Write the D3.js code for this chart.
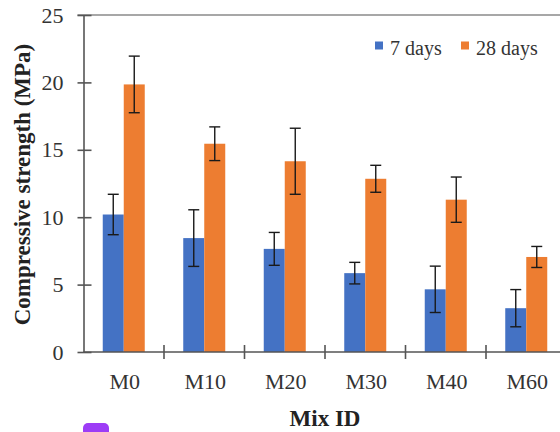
<!DOCTYPE html>
<html>
<head>
<meta charset="utf-8">
<script src="https://cdn.jsdelivr.net/npm/d3@7"></script>
<style>
html,body{margin:0;padding:0;background:#fff;}
svg{display:block;}
svg text{font-family:"Liberation Serif","Times New Roman",Times,Tinos,"DejaVu Serif",serif !important;}
</style>
</head>
<body>
<svg id="chart" width="560" height="432"></svg>
<script>
const categories = ["M0","M10","M20","M30","M40","M60"];
const seriesNames = ["7 days","28 days"];
const values7 = [10.2, 8.45, 7.65, 5.85, 4.65, 3.25];
const values28 = [19.85, 15.45, 14.15, 12.85, 11.3, 7.05];
const err7 = [1.5, 2.1, 1.22, 0.8, 1.72, 1.38];
const err28 = [2.1, 1.25, 2.45, 1.0, 1.68, 0.78];
const yTicks = [0, 5, 10, 15, 20, 25];
const colors = ["#4472C4", "#ED7D31"];

(function() {
const FONT = '"Liberation Serif","Times New Roman",Times,Tinos,"DejaVu Serif",serif';
const svg = d3.select("#chart");
const mLeft = 83.5, mRight = 566.5, mTop = 15, mBottom = 352;

const x = d3.scaleBand().domain(categories).range([mLeft, mRight]).padding(0);
const bw = x.bandwidth();
const barW = 21;
const xs = d3.scaleBand().domain(seriesNames).range([bw/2 - barW, bw/2 + barW]).padding(0);
const y = d3.scaleLinear().domain([0, 25]).range([mBottom, mTop]);

const data = categories.map((c, i) => ({
  cat: c,
  vals: [
    {s: seriesNames[0], v: values7[i], e: err7[i]},
    {s: seriesNames[1], v: values28[i], e: err28[i]}
  ]
}));

// top border
svg.append("line").attr("x1", mLeft - 6).attr("x2", 560).attr("y1", y(25)).attr("y2", y(25))
  .attr("stroke", "#8a8a8a").attr("stroke-width", 1.6);

// bars
const g = svg.append("g");
const groups = g.selectAll("g.cat").data(data).join("g")
  .attr("transform", d => `translate(${x(d.cat)},0)`);
groups.selectAll("rect").data(d => d.vals).join("rect")
  .attr("x", d => xs(d.s)).attr("width", xs.bandwidth())
  .attr("y", d => y(d.v)).attr("height", d => y(0) - y(d.v))
  .attr("fill", (d, i) => colors[i]);

// error bars
const capW = 5.5;
groups.selectAll("g.err").data(d => d.vals).join("g").attr("class", "err")
  .each(function(d) {
    const cx = xs(d.s) + xs.bandwidth()/2;
    const sel = d3.select(this);
    sel.append("line").attr("x1", cx).attr("x2", cx).attr("y1", y(d.v + d.e)).attr("y2", y(d.v - d.e))
      .attr("stroke", "#1a1a1a").attr("stroke-width", 1.4);
    [d.v + d.e, d.v - d.e].forEach(v => {
      sel.append("line").attr("x1", cx - capW).attr("x2", cx + capW).attr("y1", y(v)).attr("y2", y(v))
        .attr("stroke", "#1a1a1a").attr("stroke-width", 1.4);
    });
  });

// y axis
const yAxis = svg.append("g").attr("transform", `translate(${mLeft},0)`)
  .call(d3.axisLeft(y).tickValues(yTicks).tickSizeInner(6).tickSizeOuter(0).tickPadding(14));
yAxis.attr("font-family", FONT);
yAxis.select(".domain").attr("stroke", "#555").attr("stroke-width", 1.6);
yAxis.selectAll(".tick line").attr("x2", 8).attr("x1", -6).attr("stroke", "#555").attr("stroke-width", 1.6);
yAxis.selectAll(".tick text").attr("font-size", 22).attr("font-family", FONT).attr("fill", "#333");

// x axis
svg.append("line").attr("x1", mLeft).attr("x2", 560).attr("y1", mBottom).attr("y2", mBottom)
  .attr("stroke", "#555").attr("stroke-width", 1.6);
const bounds = categories.slice(1).map(c => x(c));
svg.append("g").selectAll("line").data(bounds).join("line")
  .attr("x1", d => d).attr("x2", d => d).attr("y1", mBottom - 7).attr("y2", mBottom + 7)
  .attr("stroke", "#555").attr("stroke-width", 1.6);
svg.append("g").selectAll("text").data(categories).join("text")
  .attr("x", d => x(d) + bw/2 + 1).attr("y", 389)
  .attr("text-anchor", "middle").attr("font-size", 22).attr("font-family", FONT).attr("fill", "#333")
  .text(d => d);

// axis titles
svg.append("text").attr("x", (mLeft + mRight)/2).attr("y", 426).attr("text-anchor", "middle")
  .attr("font-size", 23).attr("font-weight", "bold").attr("font-family", FONT).attr("fill", "#222").text("Mix ID");
svg.append("text").attr("transform", `translate(30,${(mTop + mBottom)/2 + 1}) rotate(-90)`)
  .attr("text-anchor", "middle").attr("font-size", 23).attr("font-weight", "bold").attr("font-family", FONT).attr("fill", "#222")
  .text("Compressive strength (MPa)");

// legend
const legX = [375, 461];
const leg = svg.append("g").selectAll("g").data(seriesNames).join("g")
  .attr("transform", (d, i) => `translate(${legX[i]},41.5)`);
leg.append("rect").attr("width", 8).attr("height", 8).attr("fill", (d, i) => colors[i]);
leg.append("text").attr("x", 15).attr("y", 13).attr("font-size", 20).attr("font-family", FONT).attr("fill", "#333").text(d => d);

// purple overlay marker at bottom
svg.append("rect").attr("x", 83).attr("y", 423).attr("width", 26).attr("height", 20).attr("rx", 5)
  .attr("fill", "#9d3cf6");
})();
</script>
</body>
</html>
